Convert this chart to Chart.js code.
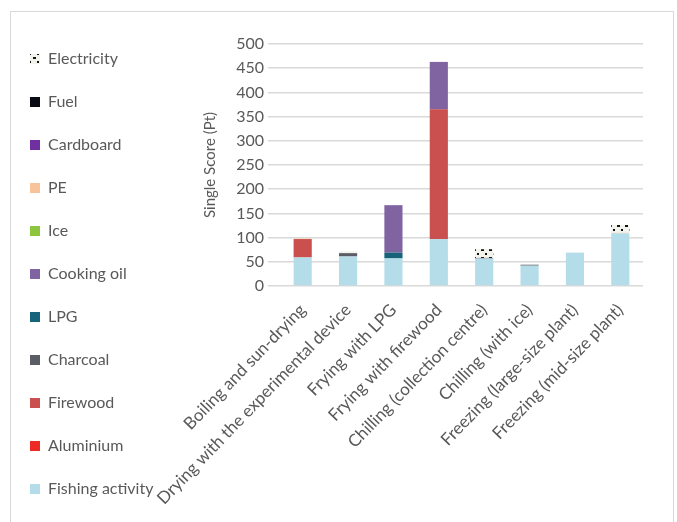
<!DOCTYPE html>
<html>
<head>
<meta charset="utf-8">
<script src="https://cdn.jsdelivr.net/npm/chart.js@4/dist/chart.umd.min.js"></script>
<style>
  html, body { margin: 0; padding: 0; background: #fff; }
  #wrap { position: relative; width: 677px; height: 522px; overflow: hidden; }
  #frame { position: absolute; left: 10px; top: 11px; width: 662px; height: 540px; border: 1px solid #d9d9d9; }
  #chart { position: absolute; left: 0; top: 0; }
</style>
</head>
<body>
<div id="wrap">
  <div id="frame"></div>
  <canvas id="chart" width="677" height="522"></canvas>
</div>
<script>
const processes = [
  'Boiling and sun-drying',
  'Drying with the experimental device',
  'Frying with LPG',
  'Frying with firewood',
  'Chilling (collection centre)',
  'Chilling (with ice)',
  'Freezing (large-size plant)',
  'Freezing (mid-size plant)',
];

// impact per source, Pt
const fishingActivity = [59, 61, 57, 97, 57, 42, 69, 109];
const aluminium       = [0, 0, 0, 0, 0, 0, 0, 0];
const firewood        = [38, 0, 0, 268, 0, 0, 0, 0];
const charcoal        = [0, 6, 0, 0, 0, 2, 0, 0];
const lpg             = [0, 0, 12, 0, 0, 0, 0, 0];
const cookingOil      = [0, 0, 98, 98, 0, 0, 0, 0];
const ice             = [0, 0, 0, 0, 0, 0, 0, 0];
const pe              = [1, 0, 0, 0, 0, 0, 0, 1];
const cardboard       = [0, 0, 0, 0, 0, 0, 0, 0];
const fuel            = [0, 1, 0, 0, 1, 0, 0, 0];
const electricity     = [0, 4, 0, 0, 18, 0, 0, 16];

const yTicks = { min: 0, max: 500, step: 50 };

const TEXT = '#595959';
const GRID = '#d9d9d9';
const FONT = 'Lato, "Open Sans", sans-serif';
const PLOT_LEFT = 280;
const PLOT_BOTTOM = 286;

// white/black speckle used for the electricity fill
function speckle() {
  const c = document.createElement('canvas');
  c.width = 8; c.height = 8;
  const g = c.getContext('2d');
  g.fillStyle = '#f3f3ee';
  g.fillRect(0, 0, 8, 8);
  g.fillStyle = '#111';
  g.fillRect(1, 1, 3, 2);
  g.fillRect(5, 5, 2, 2);
  return g.createPattern(c, 'repeat');
}

const series = [
  ['Fishing activity', fishingActivity, '#b4dde9'],
  ['Aluminium', aluminium, '#ee2a24'],
  ['Firewood', firewood, '#c9504f'],
  ['Charcoal', charcoal, '#5a5c66'],
  ['LPG', lpg, '#16637a'],
  ['Cooking oil', cookingOil, '#8064a2'],
  ['Ice', ice, '#8cc63f'],
  ['PE', pe, '#f9c39a'],
  ['Cardboard', cardboard, '#7030a0'],
  ['Fuel', fuel, '#0a0a14'],
  ['Electricity', electricity, speckle()],
];

const datasets = series.map(([label, data, color]) => ({
  label,
  data,
  backgroundColor: color,
  borderWidth: 0,
  barPercentage: 0.5,
  categoryPercentage: 0.8,
}));

new Chart(document.getElementById('chart'), {
  type: 'bar',
  data: { labels: processes, datasets },
  options: {
    responsive: false,
    animation: false,
    // bottom is pulled below the canvas so the tall legend stays in one column
    layout: { padding: { left: 3, right: 34, top: 0, bottom: -26 } },
    plugins: {
      tooltip: { enabled: false },
      title: { display: true, text: '', font: { size: 10 }, padding: { top: 0, bottom: 32 } },
      legend: {
        position: 'left',
        reverse: true,
        maxWidth: 170,
        labels: {
          boxWidth: 10,
          boxHeight: 10,
          padding: 27,
          color: TEXT,
          font: { family: FONT, size: 16 },
        },
      },
    },
    scales: {
      x: {
        stacked: true,
        grid: { display: false },
        border: { display: false },
        ticks: {
          color: TEXT,
          font: { family: FONT, size: 17 },
          maxRotation: 46,
          minRotation: 46,
          padding: 6,
        },
        afterFit: (scale) => { scale.height = 522 + 26 - PLOT_BOTTOM; },
      },
      y: {
        stacked: true,
        min: yTicks.min,
        max: yTicks.max,
        grid: { color: GRID, lineWidth: 1.5, tickLength: 12, tickColor: GRID },
        border: { display: false },
        ticks: {
          stepSize: yTicks.step,
          color: TEXT,
          font: { family: FONT, size: 16 },
          padding: 4,
        },
        title: {
          display: true,
          text: 'Single Score (Pt)',
          color: TEXT,
          font: { family: FONT, size: 15 },
          padding: { top: 38, bottom: 4 },
        },
        afterFit: (scale) => {
          const lg = scale.chart.legend;
          scale.width = PLOT_LEFT - 3 - (lg ? lg.width : 0);
        },
      },
    },
  },
});
</script>
</body>
</html>
